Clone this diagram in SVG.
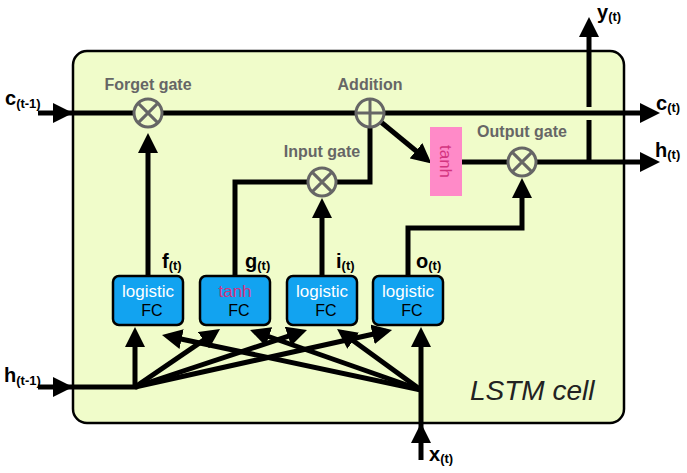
<svg xmlns="http://www.w3.org/2000/svg" width="687" height="473" viewBox="0 0 687 473">
<style>
.ln{fill:none;stroke:#000;stroke-width:5;stroke-linejoin:miter}
.arr{marker-end:url(#ah)}
.gate{fill:#f0fcca;stroke:#666;stroke-width:3}
.gx{stroke:#666;stroke-width:3}
.glbl{font-family:"Liberation Sans",Arial,sans-serif;font-weight:bold;font-size:16px;fill:#666;text-anchor:middle}
.lbl{font-family:"Liberation Sans",Arial,sans-serif;font-weight:bold;font-size:20px;fill:#000}
.sub{font-size:13px}
.fc{fill:#12a3f0;stroke:#000;stroke-width:2.5}
.fct{font-family:"Liberation Sans",Arial,sans-serif;font-size:17px;text-anchor:middle}
.w{fill:#fff}
.k{fill:#000;font-size:16px}
.pk{fill:#d3347f}
</style>
<defs>
<marker id="ah" viewBox="0 0 10 10" refX="7" refY="5" markerWidth="4" markerHeight="4" orient="auto"><path d="M0,0 L10,5 L0,10 z" fill="#000"/></marker>
</defs>

<g id="cell">
<rect x="73" y="51" width="551" height="372" rx="14" fill="#f0fcca" stroke="#000" stroke-width="2.5"/>
<text x="470" y="400" font-family="'Liberation Sans',Arial,sans-serif" font-style="italic" font-size="28" fill="#222">LSTM cell</text>
</g>

<g id="connectors">
<path class="ln arr" d="M38,113 H67"/>
<path class="ln arr" d="M67,113 H654"/>
<path class="ln arr" d="M370,113 L426.8,159.7"/>
<path class="ln" d="M370,113 V182 H322"/>
<path class="ln" d="M322,182 H235 V276"/>
<path class="ln" d="M462,162 H522"/>
<path class="ln arr" d="M522,162 H654"/>
<path class="ln" d="M589,162 V120"/>
<path class="ln arr" d="M589,107 V23"/>
<path class="ln arr" d="M148,276 V139"/>
<path class="ln arr" d="M322,276 V204"/>
<path class="ln arr" d="M408,276 V228 H522 V184"/>
<path class="ln arr" d="M38,387 H67"/>
<path class="ln arr" d="M67,387 H135 V333"/>
<path class="ln arr" d="M135,387 L215.1,332.4"/>
<path class="ln arr" d="M135,387 L301.3,331.9"/>
<path class="ln arr" d="M135,387 L386.2,331.3"/>
<path class="ln arr" d="M421,460 V429"/>
<path class="ln arr" d="M421,429 V333"/>
<path class="ln arr" d="M421,390 L167.9,336.2"/>
<path class="ln arr" d="M421,390 L255.7,332"/>
<path class="ln arr" d="M421,390 L341.9,332.5"/>
</g>

<g id="forget-gate">
<circle class="gate" cx="148" cy="113" r="14"/>
<path class="gx" d="M138.1,103.1 L157.9,122.9 M157.9,103.1 L138.1,122.9"/>
<text class="glbl" x="148" y="90">Forget gate</text>
</g>

<g id="addition">
<circle class="gate" cx="370" cy="113" r="14"/>
<path class="gx" d="M356,113 H384 M370,99 V127"/>
<text class="glbl" x="370" y="90">Addition</text>
</g>

<g id="input-gate">
<circle class="gate" cx="322" cy="182" r="14"/>
<path class="gx" d="M312.1,172.1 L331.9,191.9 M331.9,172.1 L312.1,191.9"/>
<text class="glbl" x="322" y="157">Input gate</text>
</g>

<g id="output-gate">
<circle class="gate" cx="522" cy="162" r="14"/>
<path class="gx" d="M512.1,152.1 L531.9,171.9 M531.9,152.1 L512.1,171.9"/>
<text class="glbl" x="522" y="137">Output gate</text>
</g>

<g id="tanh-out">
<rect x="430" y="127" width="32" height="69" fill="#ff8ac8"/>
<text class="fct pk" transform="translate(446,161.5) rotate(90)" y="6">tanh</text>
</g>

<g id="fc-forget">
<rect class="fc" x="113" y="276" width="70" height="49" rx="6"/>
<text class="fct w" x="148" y="297">logistic</text>
<text class="fct k" x="152" y="316">FC</text>
</g>
<g id="fc-g">
<rect class="fc" x="200" y="276" width="70" height="49" rx="6"/>
<text class="fct pk" x="235" y="297">tanh</text>
<text class="fct k" x="239" y="316">FC</text>
</g>
<g id="fc-input">
<rect class="fc" x="287" y="276" width="70" height="49" rx="6"/>
<text class="fct w" x="322" y="297">logistic</text>
<text class="fct k" x="326" y="316">FC</text>
</g>
<g id="fc-output">
<rect class="fc" x="373" y="276" width="70" height="49" rx="6"/>
<text class="fct w" x="408" y="297">logistic</text>
<text class="fct k" x="412" y="316">FC</text>
</g>

<g id="labels">
<text class="lbl" x="5" y="105">c<tspan class="sub" dy="3">(t-1)</tspan></text>
<text class="lbl" x="4" y="382">h<tspan class="sub" dy="3">(t-1)</tspan></text>
<text class="lbl" x="656" y="110">c<tspan class="sub" dy="2">(t)</tspan></text>
<text class="lbl" x="655" y="157">h<tspan class="sub" dy="2">(t)</tspan></text>
<text class="lbl" x="597" y="19">y<tspan class="sub" dy="2">(t)</tspan></text>
<text class="lbl" x="429" y="461">x<tspan class="sub" dy="2">(t)</tspan></text>
<text class="lbl" x="162" y="268">f<tspan class="sub" dy="2">(t)</tspan></text>
<text class="lbl" x="245" y="268">g<tspan class="sub" dy="2">(t)</tspan></text>
<text class="lbl" x="336" y="268">i<tspan class="sub" dy="2">(t)</tspan></text>
<text class="lbl" x="416" y="268">o<tspan class="sub" dy="2">(t)</tspan></text>
</g>
</svg>
